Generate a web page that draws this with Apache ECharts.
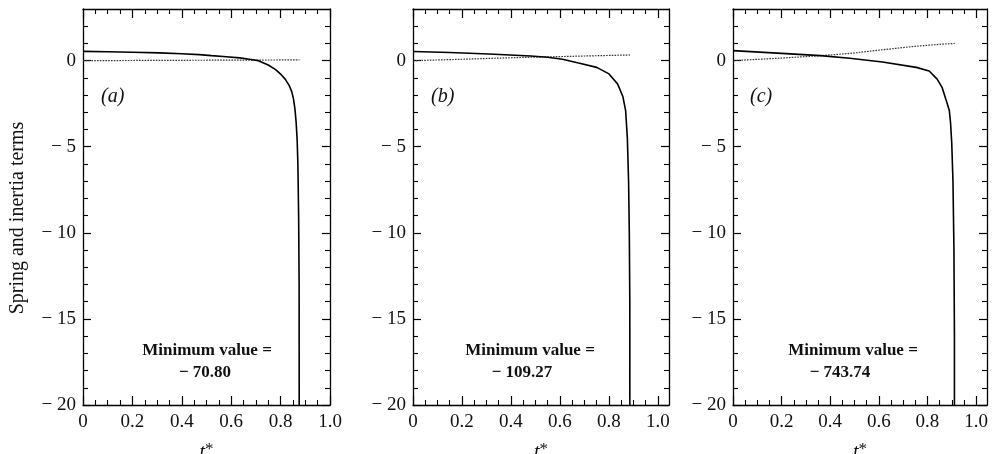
<!DOCTYPE html>
<html><head><meta charset="utf-8">
<script src="https://cdn.jsdelivr.net/npm/echarts@6/dist/echarts.min.js"></script>
<style>html,body{margin:0;padding:0;background:#fff}#c{width:994px;height:454px}</style>
</head><body><div id="c"></div>
<script>
// ---- data ----
const xMajorTicks = [0, 0.2, 0.4, 0.6, 0.8, 1.0];
const xMinorTicks = [0.05,0.1,0.15,0.25,0.3,0.35,0.45,0.5,0.55,0.65,0.7,0.75,0.85,0.9,0.95];
const yMajorTicks = [-20, -15, -10, -5, 0];
const yMinorTicks = [-19,-18,-17,-16,-14,-13,-12,-11,-9,-8,-7,-6,-4,-3,-2,-1,1,2];
const panelLabels = ['(a)', '(b)', '(c)'];
const minValues = ['\u2212 70.80', '\u2212 109.27', '\u2212 743.74'];

const tSolidA = [0, 0.1, 0.2, 0.31, 0.4, 0.47, 0.52, 0.58, 0.635, 0.68, 0.71, 0.75, 0.78, 0.8, 0.82, 0.835, 0.845, 0.852, 0.858, 0.863, 0.867, 0.87, 0.873, 0.875, 0.877];
const solidA  = [0.54, 0.52, 0.49, 0.45, 0.40, 0.35, 0.29, 0.23, 0.16, 0.07, 0.0, -0.25, -0.52, -0.78, -1.1, -1.45, -1.8, -2.2, -2.8, -3.6, -4.6, -6, -9, -13, -70.80];
const tDotA = [0, 0.2, 0.4, 0.6, 0.8, 0.876];
const dotA  = [0, 0.01, 0.02, 0.03, 0.04, 0.05];

const tSolidB = [0, 0.15, 0.31, 0.48, 0.55, 0.61, 0.68, 0.75, 0.8, 0.835, 0.857, 0.868, 0.875, 0.88, 0.883, 0.885, 0.887];
const solidB  = [0.53, 0.47, 0.39, 0.27, 0.2, 0.08, -0.15, -0.39, -0.77, -1.35, -2.1, -2.9, -4.5, -7, -10, -14, -109.27];
const tDotB = [0, 0.2, 0.4, 0.55, 0.7, 0.886];
const dotB  = [0, 0.08, 0.17, 0.22, 0.27, 0.33];

const tSolidC = [0, 0.2, 0.36, 0.48, 0.615, 0.754, 0.807, 0.84, 0.86, 0.877, 0.89, 0.895, 0.9, 0.905, 0.909, 0.911, 0.913];
const solidC  = [0.58, 0.42, 0.29, 0.14, -0.08, -0.39, -0.6, -1.07, -1.55, -2.3, -2.9, -3.6, -4.8, -7, -11, -16, -743.74];
const tDotC = [0, 0.2, 0.36, 0.48, 0.62, 0.754, 0.85, 0.912];
const dotC  = [0, 0.15, 0.29, 0.42, 0.64, 0.84, 0.95, 1.0];

// ---- layout ----
const panels = [
  {left: 83, width: 247, xmax: 1.0, ts: tSolidA, s: solidA, td: tDotA, d: dotA, lab: [113, 99], mv: [207, 205]},
  {left: 413, width: 256, xmax: 1.045, ts: tSolidB, s: solidB, td: tDotB, d: dotB, lab: [443, 99], mv: [530, 522]},
  {left: 733, width: 254, xmax: 1.045, ts: tSolidC, s: solidC, td: tDotC, d: dotC, lab: [762, 99], mv: [853, 840]}
];
const TOP = 9, H = 396;
const FONT = '"Liberation Serif", "DejaVu Serif", serif';
const zip = (a, b) => a.map((v, i) => [v, b[i]]);

const grid = [], xAxis = [], yAxis = [], series = [], graphic = [];
const axLine = {show: true, onZero: false, lineStyle: {color: '#000', width: 1.3}};
const noLine = {show: false, onZero: false};
panels.forEach((p, i) => {
  grid.push({left: p.left, top: TOP, width: p.width, height: H, outerBoundsMode: 'none'});
  const xBase = {gridIndex: i, type: 'value', min: 0, max: p.xmax, splitLine: {show: false}, axisLine: axLine};
  xAxis.push(Object.assign({}, xBase, {position: 'bottom',
    axisTick: {show: true, inside: true, length: 9, customValues: xMajorTicks, lineStyle: {color: '#000', width: 1.2}},
    axisLabel: {show: true, customValues: xMajorTicks, margin: 8, color: '#111', fontFamily: FONT, fontSize: 19,
      formatter: v => v === 0 ? '0' : v.toFixed(1)},
    name: '{t|t}{s|*}', nameLocation: 'middle', nameGap: 36,
    nameTextStyle: {rich: {t: {fontFamily: FONT, fontStyle: 'italic', fontSize: 20, color: '#111'},
                           s: {fontFamily: FONT, fontSize: 17, color: '#111', verticalAlign: 'top', padding: [0,0,6,0]}}}}));
  xAxis.push(Object.assign({}, xBase, {position: 'bottom', axisLine: noLine,
    axisTick: {show: true, inside: true, length: 5, customValues: xMinorTicks, lineStyle: {color: '#000', width: 1.1}},
    axisLabel: {show: false}}));
  xAxis.push(Object.assign({}, xBase, {position: 'top',
    axisTick: {show: true, inside: true, length: 9, customValues: xMajorTicks, lineStyle: {color: '#000', width: 1.2}},
    axisLabel: {show: false}}));
  xAxis.push(Object.assign({}, xBase, {position: 'top', axisLine: noLine,
    axisTick: {show: true, inside: true, length: 5, customValues: xMinorTicks, lineStyle: {color: '#000', width: 1.1}},
    axisLabel: {show: false}}));
  const yBase = {gridIndex: i, type: 'value', min: -20, max: 3, splitLine: {show: false}, axisLine: axLine};
  yAxis.push(Object.assign({}, yBase, {position: 'left',
    axisTick: {show: true, inside: true, length: 8, customValues: yMajorTicks, lineStyle: {color: '#000', width: 1.2}},
    axisLabel: {show: true, customValues: yMajorTicks, margin: 7, color: '#111', fontFamily: FONT, fontSize: 19,
      formatter: v => v < 0 ? '\u2212 ' + Math.abs(v) : String(v)}}));
  yAxis.push(Object.assign({}, yBase, {position: 'left', axisLine: noLine,
    axisTick: {show: true, inside: true, length: 5, customValues: yMinorTicks, lineStyle: {color: '#000', width: 1.1}},
    axisLabel: {show: false}}));
  yAxis.push(Object.assign({}, yBase, {position: 'right',
    axisTick: {show: true, inside: true, length: 8, customValues: yMajorTicks, lineStyle: {color: '#000', width: 1.2}},
    axisLabel: {show: false}}));
  yAxis.push(Object.assign({}, yBase, {position: 'right', axisLine: noLine,
    axisTick: {show: true, inside: true, length: 5, customValues: yMinorTicks, lineStyle: {color: '#000', width: 1.1}},
    axisLabel: {show: false}}));

  series.push({type: 'line', xAxisIndex: i * 4, yAxisIndex: i * 4, data: zip(p.td, p.d), showSymbol: false,
    clip: true, lineStyle: {color: '#333', width: 1.2, type: [1.6, 1.2]}, silent: true});
  series.push({type: 'line', xAxisIndex: i * 4, yAxisIndex: i * 4, data: zip(p.ts, p.s), showSymbol: false,
    clip: true, lineStyle: {color: '#000', width: 1.6}, silent: true});

  graphic.push({type: 'text', left: p.lab[0] - 12, top: p.lab[1] - 12,
    style: {text: panelLabels[i], font: 'italic 20px ' + FONT, fill: '#111'}});
  graphic.push({type: 'text', x: p.mv[0], y: 351,
    style: {text: 'Minimum value =', font: 'bold 17px ' + FONT, fill: '#111', align: 'center', verticalAlign: 'middle'}});
  graphic.push({type: 'text', x: p.mv[1], y: 373,
    style: {text: minValues[i], font: 'bold 17px ' + FONT, fill: '#111', align: 'center', verticalAlign: 'middle'}});
});
graphic.push({type: 'text', x: 18, y: 218, rotation: Math.PI / 2,
  style: {text: 'Spring and inertia terms', font: '20px ' + FONT, fill: '#111', align: 'center', verticalAlign: 'middle'}});

const chart = echarts.init(document.getElementById('c'), null, {renderer: 'canvas'});
chart.setOption({animation: false, backgroundColor: '#fff', grid, xAxis, yAxis, series, graphic});
</script></body></html>
